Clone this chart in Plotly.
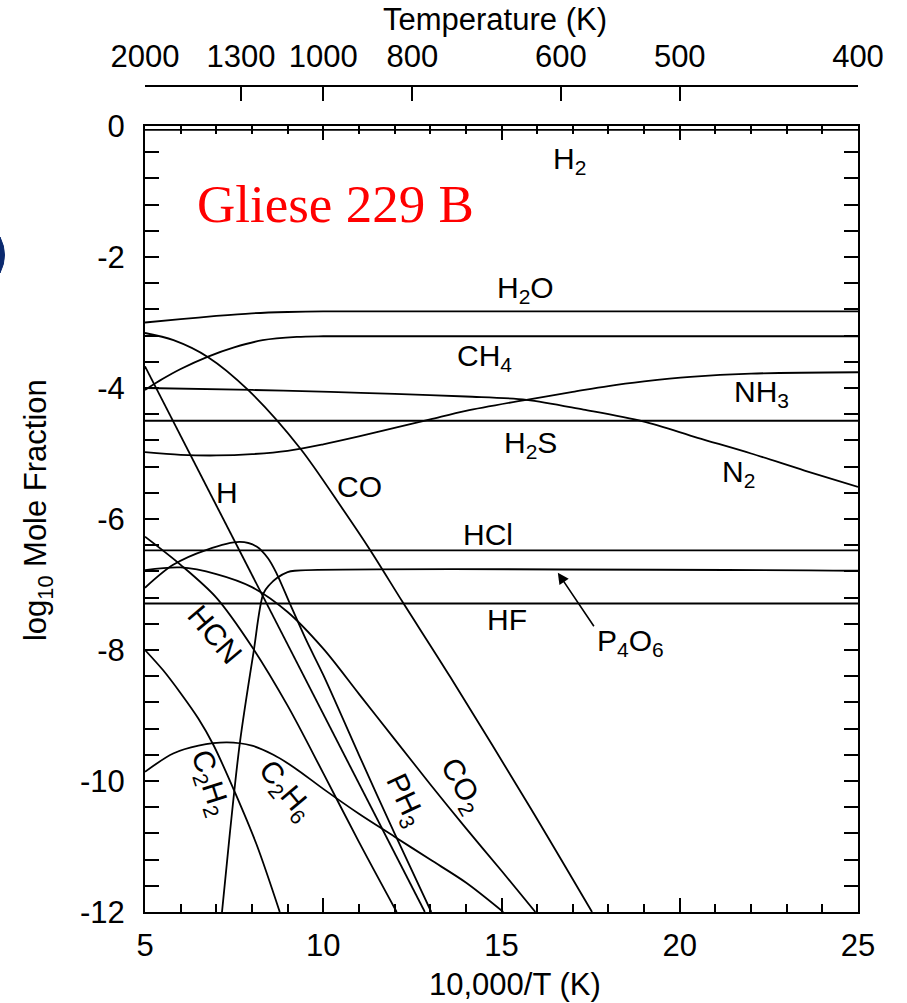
import plotly.graph_objects as go

# ---------------- data: x = 10,000/T (K), y = log10 mole fraction ----------------
h2_x = [5, 25]
h2_y = [-0.06, -0.06]

h2o_x = [5, 6, 7, 8, 9, 10, 25]
h2o_y = [-3.0, -2.95, -2.9, -2.86, -2.84, -2.83, -2.83]

ch4_x = [5, 5.5, 6, 6.77, 7.5, 8.3, 9.26, 10, 25]
ch4_y = [-4.03, -3.86, -3.71, -3.52, -3.38, -3.27, -3.22, -3.21, -3.21]

co_x = [5, 5.8, 6.77, 7.89, 9.35, 10.56, 11.31, 12.24, 13.56, 15.8, 17.54]
co_y = [-3.16, -3.27, -3.53, -4.03, -4.92, -5.86, -6.47, -7.28, -8.41, -10.4, -12]

n2_x = [5, 8, 10.2, 12, 14, 15.7, 17.3, 18.97, 20.5, 22, 23.5, 25]
n2_y = [-4.0, -4.03, -4.06, -4.09, -4.13, -4.18, -4.33, -4.51, -4.76, -5.0, -5.26, -5.51]

nh3_x = [5, 6, 7, 8, 9, 10, 11, 12, 13, 14, 15.7, 17, 18, 19, 20.3, 22, 25]
nh3_y = [-4.98, -5.02, -5.03, -5.01, -4.96, -4.86, -4.74, -4.61, -4.48, -4.35,
         -4.18, -4.06, -3.97, -3.9, -3.83, -3.78, -3.76]

h2s_x = [5, 25]
h2s_y = [-4.5, -4.5]

hcl_x = [5, 25]
hcl_y = [-6.48, -6.48]

hf_x = [5, 25]
hf_y = [-7.29, -7.29]

p4o6_x = [7.16, 7.38, 7.66, 8.04, 8.32, 8.5, 8.7, 9.0, 9.2, 25]
p4o6_y = [-12, -10.8, -9.42, -8.05, -7.14, -7.0, -6.9, -6.81, -6.79, -6.79]

h_x = [5, 12.85]
h_y = [-3.67, -12]

hcn_x = [5, 6, 7, 8, 9, 10, 11, 12.06]
hcn_y = [-6.27, -6.7, -7.2, -7.95, -8.85, -9.88, -10.93, -12]

c2h2_x = [5, 5.51, 6, 6.5, 6.92, 7.52, 8.13, 8.78]
c2h2_y = [-8.0, -8.31, -8.66, -9.05, -9.45, -10.17, -10.97, -12]

c2h6_x = [5, 5.79, 6.5, 7.3, 8, 8.6, 9.2, 10, 11, 12, 13, 14, 15.05]
c2h6_y = [-9.86, -9.58, -9.46, -9.41, -9.46, -9.6, -9.8, -10.12, -10.5, -10.85,
          -11.2, -11.55, -12]

ph3_x = [5, 5.79, 6.73, 7.66, 8.13, 8.45, 8.69, 9.07, 9.54, 10, 11, 12, 13.03]
ph3_y = [-7.05, -6.7, -6.47, -6.35, -6.42, -6.6, -6.83, -7.3, -7.87, -8.38,
         -9.6, -10.8, -12]

co2_x = [5, 6, 7, 8, 9, 10, 11, 12, 13, 14, 15, 15.95]
co2_y = [-6.78, -6.74, -6.84, -7.04, -7.42, -7.98, -8.67, -9.36, -10.05, -10.72,
         -11.37, -12]

series = [
    ("H2", h2_x, h2_y), ("H2O", h2o_x, h2o_y), ("CH4", ch4_x, ch4_y),
    ("CO", co_x, co_y), ("N2", n2_x, n2_y), ("NH3", nh3_x, nh3_y),
    ("H2S", h2s_x, h2s_y), ("HCl", hcl_x, hcl_y), ("HF", hf_x, hf_y),
    ("P4O6", p4o6_x, p4o6_y), ("H", h_x, h_y), ("HCN", hcn_x, hcn_y),
    ("C2H2", c2h2_x, c2h2_y), ("C2H6", c2h6_x, c2h6_y), ("PH3", ph3_x, ph3_y),
    ("CO2", co2_x, co2_y),
]

# species labels
label_text = ["H<sub>2</sub>", "H<sub>2</sub>O", "CH<sub>4</sub>", "NH<sub>3</sub>",
              "H<sub>2</sub>S", "N<sub>2</sub>", "H", "CO", "HCl", "HF",
              "P<sub>4</sub>O<sub>6</sub>", "HCN", "C<sub>2</sub>H<sub>2</sub>",
              "C<sub>2</sub>H<sub>6</sub>", "PH<sub>3</sub>", "CO<sub>2</sub>"]
label_x = [16.92, 15.66, 14.51, 22.28, 15.8, 21.66, 7.3, 11.03, 14.62, 15.15,
           18.63, 6.96, 6.8, 8.93, 12.27, 13.89]
label_y = [-0.52, -2.5, -3.53, -4.08, -4.87, -5.3, -5.59, -5.5, -6.24, -7.53,
           -7.88, -7.77, -10.03, -10.15, -10.29, -10.08]
label_angle = [0, 0, 0, 0, 0, 0, 0, 0, 0, 0, 0, 50, 72, 50, 65, 60]

# top temperature axis
temp_vals = [5, 10000 / 1300, 10, 12.5, 10000 / 600, 20, 25]
temp_text = ["2000", "1300", "1000", "800", "600", "500", "400"]

y_ticks = [0, -2, -4, -6, -8, -10, -12]
y_ticktext = ["0", "-2", "-4", "-6", "-8", "-10", "-12"]
x_ticks = [5, 10, 15, 20, 25]

# ---------------- figure ----------------
FONT = "Liberation Sans, Arial, sans-serif"
FS = 31
fig = go.Figure()

for name, xs, ys in series:
    fig.add_trace(go.Scatter(
        x=xs, y=ys, mode="lines", name=name, showlegend=False,
        line=dict(color="black", width=1.8, shape="spline", smoothing=0.9),
        hoverinfo="skip"))

# invisible trace to carry the top temperature axis
fig.add_trace(go.Scatter(x=[5, 25], y=[None, None], xaxis="x2", mode="lines",
                         showlegend=False, hoverinfo="skip"))

for t, x, y, a in zip(label_text, label_x, label_y, label_angle):
    fig.add_annotation(x=x, y=y, text=t, showarrow=False, textangle=a,
                       xanchor="center", yanchor="middle",
                       font=dict(family=FONT, size=FS - 1, color="black"))

# arrow to P4O6 line
fig.add_annotation(x=16.58, y=-6.82, ax=17.62, ay=-7.66, axref="x", ayref="y",
                   text="", showarrow=True, arrowhead=2, arrowsize=1.4,
                   arrowwidth=1.6, arrowcolor="black", standoff=0)

fig.add_annotation(x=10.33, y=-1.19, text="Gliese 229 B", showarrow=False,
                   xanchor="center", yanchor="middle",
                   font=dict(family="Liberation Serif, Times New Roman, serif",
                             size=53, color="#ff0000"))

# axis titles as text
fig.add_annotation(xref="paper", yref="paper", x=0.519, y=-0.0837,
                   xanchor="center", yanchor="middle",
                   text="10,000/T (K)", showarrow=False,
                   font=dict(family=FONT, size=FS, color="black"))
fig.add_annotation(xref="paper", yref="paper", x=0.491, y=1.023,
                   xanchor="center", yanchor="middle",
                   text="Temperature (K)", showarrow=False,
                   font=dict(family=FONT, size=FS, color="black"))
fig.add_annotation(xref="paper", yref="paper", x=-0.150, y=0.461,
                   xanchor="center", yanchor="middle",
                   text="log<sub>10</sub> Mole Fraction", showarrow=False,
                   textangle=-90, font=dict(family=FONT, size=FS, color="black"))

# navy fragment at the left page edge
fig.add_shape(type="path", xref="paper", yref="paper",
              path="M -0.2034,0.7741 Q -0.1907,0.7534 -0.2034,0.7328 Z",
              fillcolor="#0b2a6f", line=dict(color="#0b2a6f", width=1))

axis_common = dict(showgrid=False, zeroline=False, showline=True,
                   linecolor="black", linewidth=2, ticks="inside",
                   tickcolor="black", tickwidth=1.5, mirror="allticks",
                   tickfont=dict(family=FONT, size=FS, color="black"))

fig.update_layout(
    width=907, height=1003,
    margin=dict(l=145, r=49, t=40, b=91),
    paper_bgcolor="white", plot_bgcolor="white",
    xaxis=dict(range=[5, 25], tickvals=x_ticks, ticklen=14,
               minor=dict(dtick=1, ticklen=8, ticks="inside", tickcolor="black",
                          tickwidth=1.5),
               ticklabelstandoff=5, **axis_common),
    yaxis=dict(range=[-12, 0], tickvals=y_ticks, ticktext=y_ticktext,
               ticklen=14, domain=[0, 0.9014],
               minor=dict(tick0=0, dtick=0.4, ticklen=8, ticks="inside",
                          tickcolor="black", tickwidth=1.5),
               ticklabelstandoff=12, **axis_common),
    xaxis2=dict(range=[5, 25], overlaying="x", side="top", anchor="free",
                position=0.9472, tickvals=temp_vals, ticktext=temp_text,
                ticks="inside", ticklen=14, tickwidth=1.5, tickcolor="black",
                showline=True, linecolor="black", linewidth=2, showgrid=False,
                zeroline=False, ticklabelstandoff=6,
                tickfont=dict(family=FONT, size=FS, color="black")),
)

fig.write_html("out.html",
               config={"displayModeBar": False},
               post_script="document.body.style.margin='0px';"
                           "document.body.style.overflow='hidden';")
